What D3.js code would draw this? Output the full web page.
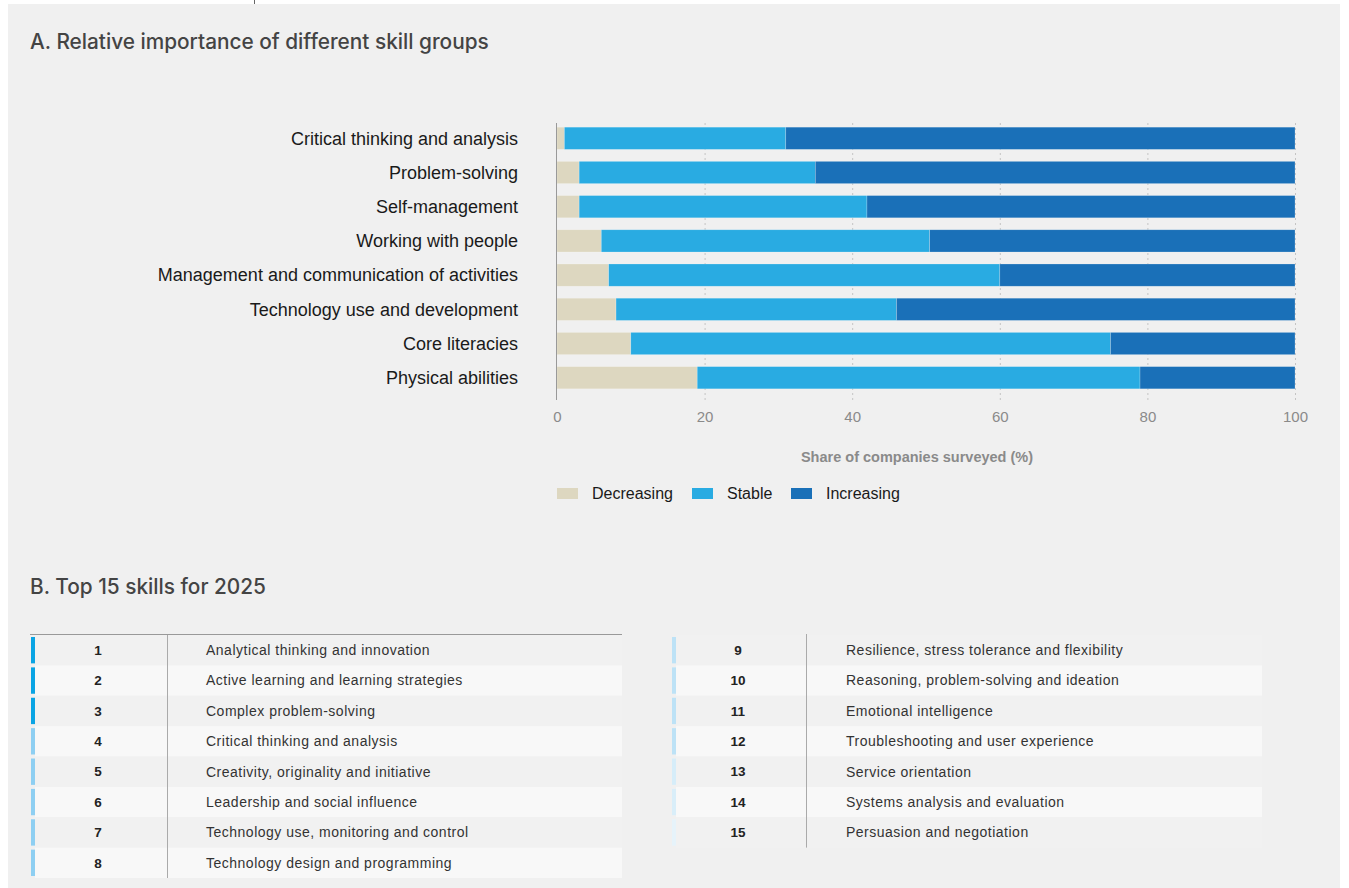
<!DOCTYPE html>
<html>
<head>
<meta charset="utf-8">
<script src="https://cdn.jsdelivr.net/npm/d3@7/dist/d3.min.js"></script>
<style>
  html, body { margin: 0; padding: 0; background: #ffffff; }
  svg { display: block; font-family: "Liberation Sans", Arial, Helvetica, sans-serif; }
</style>
</head>
<body>
<svg id="chart" width="1349" height="888"></svg>
<script>
// Skill groups and the share of companies reporting each trend (%)
const skillGroups = [
  "Critical thinking and analysis",
  "Problem-solving",
  "Self-management",
  "Working with people",
  "Management and communication of activities",
  "Technology use and development",
  "Core literacies",
  "Physical abilities"
];
const decreasing = [1, 3, 3, 6, 7, 8, 10, 19];
const stable     = [30, 32, 39, 44.5, 53, 38, 65, 60];
const increasing = [69, 65, 58, 49.5, 40, 54, 25, 21];

const seriesNames = ["Decreasing", "Stable", "Increasing"];
const seriesColors = ["#ddd7c0", "#29abe2", "#1a70b8"];
const xTicks = [0, 20, 40, 60, 80, 100];

// Top 15 skills list
const topRanks = d3.range(1, 16);
const topSkills = [
  "Analytical thinking and innovation",
  "Active learning and learning strategies",
  "Complex problem-solving",
  "Critical thinking and analysis",
  "Creativity, originality and initiative",
  "Leadership and social influence",
  "Technology use, monitoring and control",
  "Technology design and programming",
  "Resilience, stress tolerance and flexibility",
  "Reasoning, problem-solving and ideation",
  "Emotional intelligence",
  "Troubleshooting and user experience",
  "Service orientation",
  "Systems analysis and evaluation",
  "Persuasion and negotiation"
];
const rankAccent = [
  "#0aa4e4", "#0aa4e4", "#0aa4e4",
  "#8ecff2", "#8ecff2", "#8ecff2", "#8ecff2", "#8ecff2",
  "#bde2f6", "#bde2f6", "#bde2f6", "#bde2f6",
  "#d6edf9", "#d9eef9", "#e6f3fa"
];

const svg = d3.select("#chart");
const titleFont = "Inter, \"Liberation Sans\", Arial, sans-serif";

// panel background
svg.append("rect").attr("x", 8).attr("y", 4).attr("width", 1332).attr("height", 884).attr("fill", "#f0f0f0");
svg.append("line").attr("x1", 254.5).attr("x2", 254.5).attr("y1", 0).attr("y2", 4).attr("stroke", "#666").attr("stroke-width", 1);

// ---------- Part A: stacked bars ----------
svg.append("text").attr("x", 30).attr("y", 49)
  .attr("font-family", titleFont)
  .attr("font-size", 20.8).attr("fill", "#444").attr("font-weight", 500)
  .text("A. Relative importance of different skill groups");

const x = d3.scaleLinear().domain([0, 100]).range([557, 1295]);
const y = d3.scaleBand().domain(skillGroups).range([121, 395]).paddingInner(0.35).paddingOuter(0.18);

const rows = skillGroups.map((g, i) => ({ group: g, Decreasing: decreasing[i], Stable: stable[i], Increasing: increasing[i] }));
const stack = d3.stack().keys(seriesNames)(rows);

// dotted gridlines
svg.append("g").selectAll("line").data(xTicks.slice(1)).join("line")
  .attr("x1", d => x(d) + 0.5).attr("x2", d => x(d) + 0.5)
  .attr("y1", 123).attr("y2", 400)
  .attr("stroke", "#c4c4c4").attr("stroke-width", 1).attr("stroke-dasharray", "2,3");

const color = d3.scaleOrdinal().domain(seriesNames).range(seriesColors);

svg.append("g").selectAll("g").data(stack).join("g")
  .attr("fill", d => color(d.key))
  .selectAll("rect").data(d => d).join("rect")
  .attr("x", d => x(d[0]))
  .attr("y", d => y(d.data.group))
  .attr("width", d => x(d[1]) - x(d[0]))
  .attr("height", y.bandwidth())
  .attr("stroke", "rgba(255,255,255,0.35)").attr("stroke-width", 0.6);

// axis baseline
svg.append("line").attr("x1", x(0) - 0.5).attr("x2", x(0) - 0.5).attr("y1", 123).attr("y2", 400)
  .attr("stroke", "#999").attr("stroke-width", 1);

// category labels
svg.append("g").selectAll("text").data(skillGroups).join("text")
  .attr("x", 518).attr("y", d => y(d) + y.bandwidth() / 2)
  .attr("dy", "0.35em").attr("text-anchor", "end")
  .attr("font-size", 18).attr("fill", "#1a1a1a")
  .text(d => d);

// x tick labels
const xAxis = svg.append("g").attr("transform", "translate(0,405)")
  .call(d3.axisBottom(x).tickValues(xTicks).tickSize(0).tickPadding(0));
xAxis.select(".domain").remove();
xAxis.selectAll("text").attr("font-size", 15).attr("fill", "#8a8a8a")
  .attr("font-family", "\"Liberation Sans\", Arial, sans-serif").attr("dy", "1.1em");

svg.append("text").attr("x", 917).attr("y", 462).attr("text-anchor", "middle")
  .attr("font-size", 14.5).attr("font-weight", "bold").attr("fill", "#8a8a8a")
  .text("Share of companies surveyed (%)");

// legend
const legendX = [557, 692, 791];
const legend = svg.append("g").selectAll("g").data(seriesNames).join("g")
  .attr("transform", (d, i) => `translate(${legendX[i]},488)`);
legend.append("rect").attr("width", 21).attr("height", 11).attr("fill", d => color(d));
legend.append("text").attr("x", 35).attr("y", 5.5).attr("dy", "0.35em")
  .attr("font-size", 16).attr("fill", "#1a1a1a").text(d => d);

// ---------- Part B: top 15 skills table ----------
svg.append("text").attr("x", 30).attr("y", 594)
  .attr("font-family", titleFont)
  .attr("font-size", 20.8).attr("fill", "#444").attr("font-weight", 500)
  .text("B. Top 15 skills for 2025");

const rowY = d3.scaleBand().domain(d3.range(8)).range([635, 878]);

const columns = [
  { ranks: topRanks.slice(0, 8), x0: 31, x1: 622, numX: 98, sepX: 167, textX: 206, topLine: true },
  { ranks: topRanks.slice(8), x0: 672, x1: 1262, numX: 738, sepX: 806, textX: 846, topLine: false }
];

columns.forEach(col => {
  const g = svg.append("g");
  const rowG = g.selectAll("g").data(col.ranks).join("g")
    .attr("transform", (d, i) => `translate(0,${rowY(i)})`);
  rowG.append("rect").attr("x", col.x0 + 4).attr("y", 0)
    .attr("width", col.x1 - col.x0 - 4).attr("height", rowY.bandwidth())
    .attr("fill", (d, i) => i % 2 === 0 ? "#f1f1f1" : "#f8f8f8");
  rowG.append("rect").attr("x", col.x0).attr("y", 2)
    .attr("width", 4).attr("height", rowY.bandwidth() - 4)
    .attr("fill", d => rankAccent[d - 1]);
  rowG.append("text").attr("x", col.numX).attr("y", rowY.bandwidth() / 2)
    .attr("dy", "0.35em").attr("text-anchor", "middle")
    .attr("font-size", 13.5).attr("font-weight", "bold").attr("fill", "#222")
    .text(d => d);
  rowG.append("text").attr("x", col.textX).attr("y", rowY.bandwidth() / 2)
    .attr("dy", "0.35em").attr("font-size", 14).attr("letter-spacing", 0.5).attr("fill", "#333")
    .text(d => topSkills[d - 1]);
  g.append("line").attr("x1", col.sepX + 0.5).attr("x2", col.sepX + 0.5)
    .attr("y1", 634).attr("y2", 635 + rowY.bandwidth() * col.ranks.length)
    .attr("stroke", "#aaa").attr("stroke-width", 1);
  if (col.topLine) {
    g.append("line").attr("x1", col.x0 - 1).attr("x2", col.x1)
      .attr("y1", 634.5).attr("y2", 634.5).attr("stroke", "#999").attr("stroke-width", 1);
  }
});
</script>
</body>
</html>
